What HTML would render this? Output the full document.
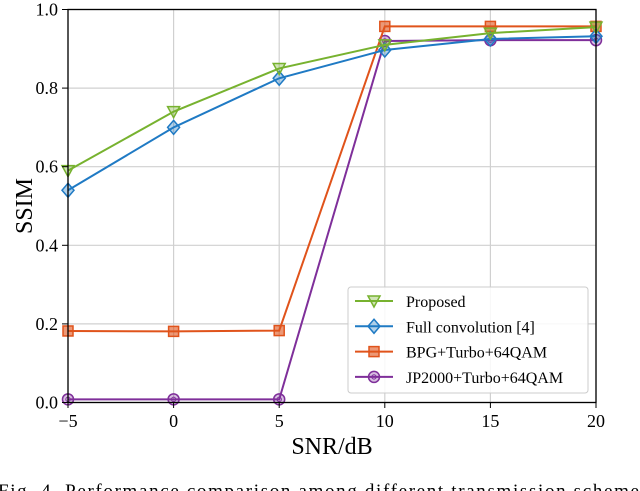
<!DOCTYPE html>
<html><head><meta charset="utf-8"><style>
html,body{margin:0;padding:0;background:#fff;width:640px;height:491px;overflow:hidden}
text{font-family:"Liberation Serif",serif;fill:#000}
</style></head><body>
<svg id="chart" width="640" height="491" viewBox="0 0 640 491" xmlns="http://www.w3.org/2000/svg">
<g id="grid"></g>
<g id="series"></g>
<rect x="68" y="9.5" width="528" height="393" fill="none" stroke="#000" stroke-width="1.3"/>
<g id="ticks"></g>
<text transform="translate(32,206) rotate(-90)" text-anchor="middle" font-size="24">SSIM</text>
<text x="332" y="454" text-anchor="middle" font-size="24">SNR/dB</text>
<g id="legend">
<rect x="348" y="287" width="240" height="106" rx="3" fill="#fff" fill-opacity="0.85" stroke="#ccc" stroke-width="1"/>
</g>
<text x="-2" y="497" font-size="19" textLength="650" lengthAdjust="spacing">Fig. 4.    Performance comparison among different transmission schemes</text>
</svg>
<script>
const xValues=[-5,0,5,10,15,20];
const proposed=[0.59,0.74,0.85,0.91,0.94,0.955];
const fullConv=[0.54,0.70,0.825,0.897,0.925,0.932];
const bpg=[0.182,0.181,0.183,0.957,0.957,0.957];
const jp2000=[0.008,0.008,0.008,0.92,0.922,0.922];
const xTicks=[-5,0,5,10,15,20];
const yTicks=[0.0,0.2,0.4,0.6,0.8,1.0];
const seriesNames=["Proposed","Full convolution [4]","BPG+Turbo+64QAM","JP2000+Turbo+64QAM"];
const NS="http://www.w3.org/2000/svg";
const X=v=>68+(v+5)/25*528;
const Y=v=>402.5-v*393;
function mk(t,a,p){const e=document.createElementNS(NS,t);for(const k in a)e.setAttribute(k,a[k]);p.appendChild(e);return e;}
const grid=document.getElementById('grid'),ticks=document.getElementById('ticks'),ser=document.getElementById('series'),leg=document.getElementById('legend');
xTicks.forEach(v=>{
 const g=mk('line',{x1:X(v),x2:X(v),y1:9.5,y2:402.5,stroke:'#d0d0d0','stroke-width':1.2},grid);
 
 
 const t=mk('line',{x1:X(v),x2:X(v),y1:402.5,y2:408,stroke:'#000'},ticks);
 
 
 const l=mk('text',{x:X(v),y:427,'text-anchor':'middle','font-size':18},ticks);
 l.textContent=v<0?'\u2212'+(-v):String(v);
 
 
});
yTicks.forEach(v=>{
 const g=mk('line',{x1:68,x2:596,y1:Y(v),y2:Y(v),stroke:'#d0d0d0','stroke-width':1.2},grid);
 
 
 const t=mk('line',{x1:62,x2:68,y1:Y(v),y2:Y(v),stroke:'#000'},ticks);
 
 
 const l=mk('text',{x:58,y:Y(v)+6,'text-anchor':'end','font-size':18},ticks);
 l.textContent=v.toFixed(1);
 
 
});
function marker(kind,x,y,c,p){
 let e;
 if(kind==='tri') e=mk('path',{d:`M${x-6},${y-5}L${x+6},${y-5}L${x},${y+6}Z`,fill:c,'fill-opacity':0.35,stroke:c,'stroke-width':1.5},p);
 else if(kind==='dia') e=mk('path',{d:`M${x},${y-7}L${x+6},${y}L${x},${y+7}L${x-6},${y}Z`,fill:c,'fill-opacity':0.35,stroke:c,'stroke-width':1.5},p);
 else if(kind==='sq') e=mk('rect',{x:x-5,y:y-5,width:10,height:10,fill:c,'fill-opacity':0.6,stroke:c,'stroke-width':1.5},p);
 else { e=mk('circle',{cx:x,cy:y,r:5.5,fill:c,'fill-opacity':0.3,stroke:c,'stroke-width':1.5},p); mk('circle',{cx:x,cy:y,r:2.2,fill:'none',stroke:c,'stroke-width':1},p); }
 return e;
}
const defs=[[jp2000,'#7f2f9a','circ'],[bpg,'#e0531b','sq'],[fullConv,'#1f7ac4','dia'],[proposed,'#77b22f','tri']];
const names=['jp2000-series','bpg-series','full-convolution-series','proposed-series'];
defs.forEach((d,i)=>{
 const g=mk('g',{},ser);
 
 
 const pl=mk('polyline',{points:d[0].map((v,j)=>X(xValues[j])+','+Y(v)).join(' '),fill:'none',stroke:d[1],'stroke-width':2},g);
 
 
 d[0].forEach((v,j)=>{const m=marker(d[2],X(xValues[j]),Y(v),d[1],g);
  
  });
});
const legDefs=[[seriesNames[0],'#77b22f','tri'],[seriesNames[1],'#1f7ac4','dia'],[seriesNames[2],'#e0531b','sq'],[seriesNames[3],'#7f2f9a','circ']];
legDefs.forEach((d,i)=>{
 const y=301+i*25.3;
 const g=mk('g',{},leg);
 
 
 mk('line',{x1:355,x2:393,y1:y,y2:y,stroke:d[1],'stroke-width':2},g);
 marker(d[2],374,y,d[1],g);
 const t=mk('text',{x:406,y:y+6,'font-size':16},g);
 t.textContent=d[0];
});
</script>
</body></html>
